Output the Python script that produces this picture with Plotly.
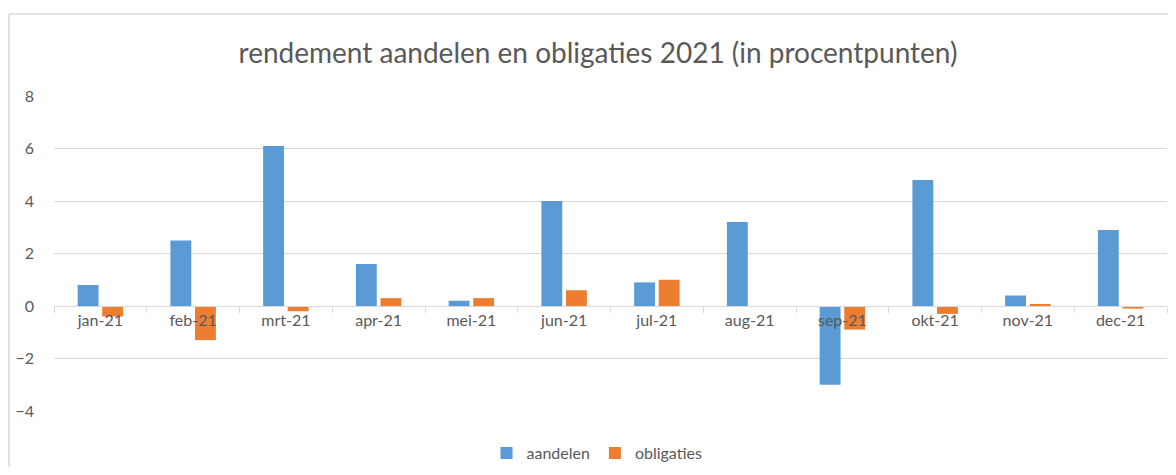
import plotly.graph_objects as go

categories = ["jan-21", "feb-21", "mrt-21", "apr-21", "mei-21", "jun-21",
              "jul-21", "aug-21", "sep-21", "okt-21", "nov-21", "dec-21"]
aandelen = [0.8, 2.5, 6.1, 1.6, 0.2, 4.0, 0.9, 3.2, -3.0, 4.8, 0.4, 2.9]
obligaties = [-0.4, -1.3, -0.2, 0.3, 0.3, 0.6, 1.0, 0.0, -0.9, -0.3, 0.07, -0.1]

# page has an 8px body margin: lay the figure out offset by 8px and small
# enough that the page does not overflow the window
OFF = 8
W, H = 1176 - 2 * OFF, 475 - 2 * OFF
L, T = 54 - OFF, 96 - OFF
R = W - (1167 - OFF)
B = H - (411 - OFF)
pw, ph = W - L - R, H - T - B

fig = go.Figure()
fig.add_trace(go.Bar(x=categories, y=aandelen, name="aandelen",
                     marker=dict(color="#5B9BD5", line=dict(width=0))))
fig.add_trace(go.Bar(x=categories, y=obligaties, name="obligaties",
                     marker=dict(color="#ED7D31", line=dict(width=0))))

text_color = "#595959"
font_family = "Lato, 'Open Sans', sans-serif"

fig.update_layout(
    width=W, height=H,
    margin=dict(l=L, r=R, t=T, b=B, autoexpand=False),
    paper_bgcolor="white", plot_bgcolor="white",
    barmode="group", bargap=0.47, bargroupgap=0.15,
    font=dict(family=font_family, color=text_color, size=16),
    title=dict(text="rendement aandelen en obligaties 2021 (in procentpunten)",
               x=(598 - OFF) / W, xanchor="center", xref="container",
               y=1 - (53 - OFF) / H, yanchor="middle",
               font=dict(size=28, color=text_color, family=font_family)),
    showlegend=True,
    legend=dict(orientation="h", x=(597 - OFF) / W, xanchor="center", xref="container",
                y=1 - (453 - OFF) / H, yanchor="middle", yref="container",
                font=dict(size=16, color=text_color),
                itemwidth=30, traceorder="normal", tracegroupgap=0),
    yaxis=dict(range=[-4, 8], dtick=2, tick0=0, showgrid=True,
               gridcolor="#d9d9d9", gridwidth=1.2, zeroline=False,
               showline=False, ticks="", tickfont=dict(size=16, color=text_color),
               ticklabelstandoff=19),
    xaxis=dict(type="category", anchor="free", position=4 / 12,
               showline=True, linecolor="#d9d9d9", linewidth=1.2,
               ticks="outside", ticklen=6, tickcolor="#d9d9d9", tickwidth=1.2,
               tickson="boundaries", showgrid=False,
               tickfont=dict(size=16, color=text_color)),
)

# chart-area border (left and top edges visible in the reference)
bx0 = (1 - L) / pw
by1 = (T + ph - (14 - OFF)) / ph
by0 = -(H + 10 - (T + ph)) / ph
bx1 = (W + 10 - L) / pw
border = dict(color="#d9d9d9", width=1.5)
fig.add_shape(type="line", xref="paper", yref="paper",
              x0=bx0, x1=bx0, y0=by0, y1=by1, line=border, layer="below")
fig.add_shape(type="line", xref="paper", yref="paper",
              x0=bx0, x1=bx1, y0=by1, y1=by1, line=border, layer="below")

fig.write_html("out.html")
